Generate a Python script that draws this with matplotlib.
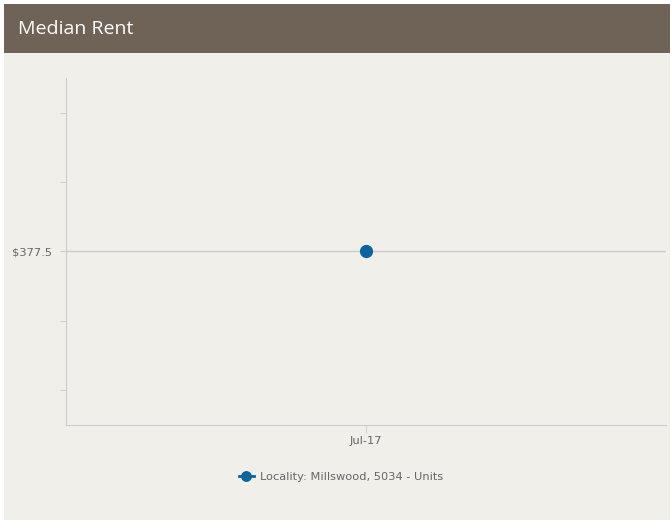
import matplotlib.pyplot as plt
from matplotlib.patches import Rectangle

# Data
months = ['Jul-17']
rents = [377.5]
series_name = 'Locality: Millswood, 5034 - Units'

# Colours
header_color = '#6f6358'
panel_color = '#f0efea'
point_color = '#0b63a0'
axis_color = '#cccccc'
label_color = '#666666'

W, H = 671, 520
fig = plt.figure(figsize=(W / 100, H / 100), dpi=100, facecolor='white')

# panel background and header band
fig.patches.append(Rectangle((4 / W, 0), 1 - 5 / W, 1 - 4 / H, transform=fig.transFigure,
                             facecolor=panel_color, edgecolor='none', zorder=-2))
fig.patches.append(Rectangle((4 / W, 1 - 53 / H), 1 - 5 / W, 49 / H, transform=fig.transFigure,
                             facecolor=header_color, edgecolor='none', zorder=-1))
fig.text(18 / W, 1 - 29 / H, 'Median Rent', color='white', fontsize=14,
         family='Open Sans', va='center', ha='left')

ax = fig.add_axes([66 / W, 1 - 425 / H, 600 / W, 347 / H])
ax.set_facecolor(panel_color)

x = list(range(len(months)))
ax.plot(x, rents, color=point_color, marker='o', markersize=8.5, linewidth=2,
        label=series_name, zorder=3)

ax.set_xlim(-1, 1)
ax.set_ylim(rents[0] - 5, rents[0] + 5)
ax.set_xticks(x)
ax.set_xticklabels(months)
ax.set_yticks(rents)
ax.set_yticklabels(['$%.1f' % v for v in rents])
ax.set_yticks([rents[0] + d for d in (-4, -2, 2, 4)], minor=True)

ax.grid(axis='y', which='major', color=axis_color, linewidth=1)
for side in ('top', 'right'):
    ax.spines[side].set_visible(False)
for side in ('left', 'bottom'):
    ax.spines[side].set_color(axis_color)
ax.tick_params(axis='y', which='both', length=4, color=axis_color, labelsize=8.2,
               labelcolor=label_color, pad=6)
ax.tick_params(axis='x', length=6, color='#ccd6eb', labelsize=8.2, labelcolor=label_color, pad=2)

fig.legend(loc='center', bbox_to_anchor=(341 / W, 1 - 477 / H), frameon=False,
           fontsize=8.2, labelcolor=label_color, handlelength=1.3, handletextpad=0.55,
           markerscale=0.8)

fig.savefig('out.png', dpi=100, facecolor=fig.get_facecolor())
